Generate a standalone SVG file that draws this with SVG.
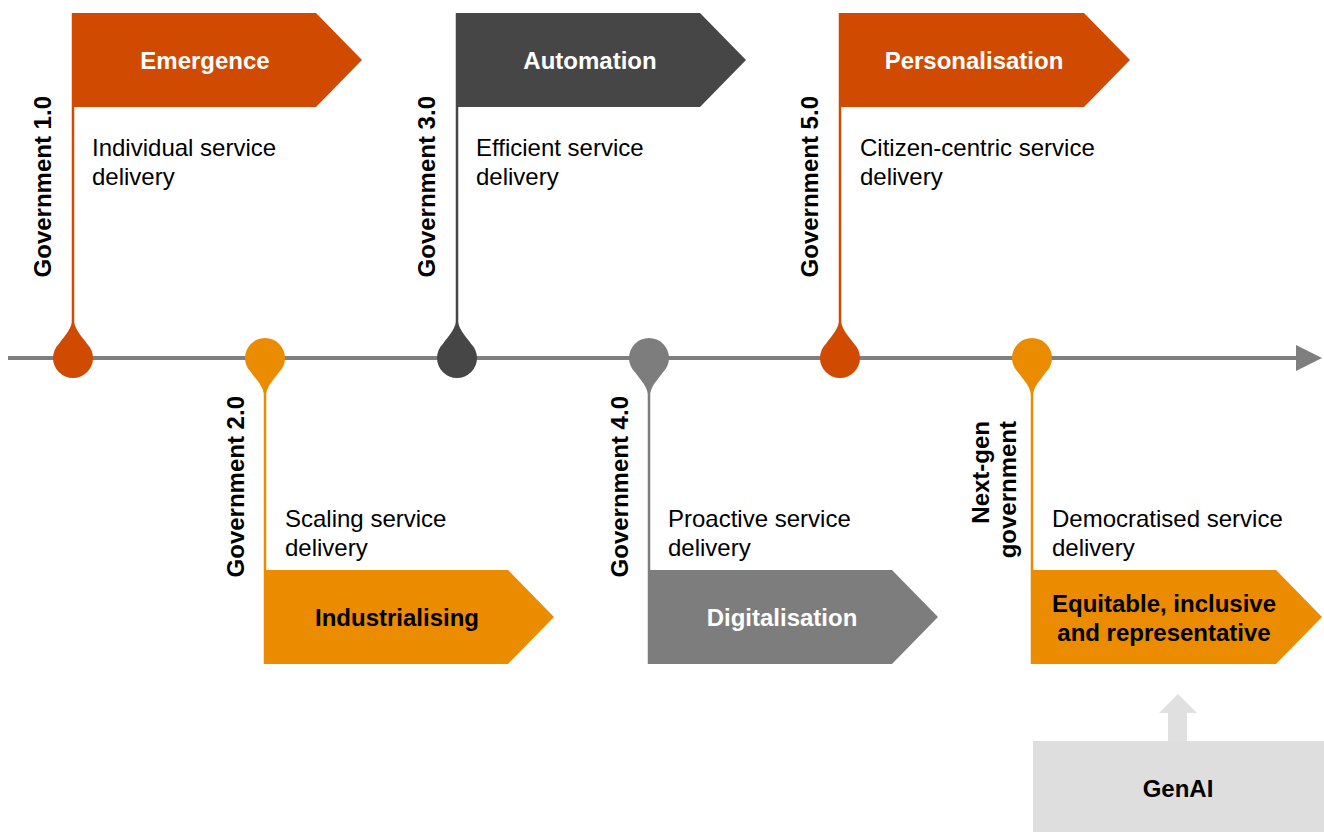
<svg xmlns="http://www.w3.org/2000/svg" xmlns:xlink="http://www.w3.org/1999/xlink" width="1324" height="832" viewBox="0 0 1324 832">
<style>
text{font-family:"Liberation Sans",Arial,sans-serif;font-size:24px}
.b{font-weight:bold}
.w{fill:#ffffff}
.k{fill:#000000}
.c{text-anchor:middle}
.e{text-anchor:end}
.red{fill:#D04A02}
.dk{fill:#464646}
.or{fill:#EB8C00}
.gr{fill:#7D7D7D}
.pole{stroke-width:2.5;fill:none}
</style>
<defs>
<path id="pinUp" d="M0,-42 C1,-28 8,-23 14,-14.3 A20,20 0 1 1 -14,-14.3 C-8,-23 -1,-28 0,-42 Z"/>
<path id="pinDown" d="M0,42 C1,28 8,23 14,14.3 A20,20 0 1 0 -14,14.3 C-8,23 -1,28 0,42 Z"/>
</defs>
<rect width="1324" height="832" fill="#ffffff"/>
<g id="connectors">
<line x1="8" y1="358" x2="1298" y2="358" stroke="#7F7F7F" stroke-width="4"/>
<polygon points="1296,345 1322,358 1296,371" fill="#7F7F7F"/>
<polygon points="1168,741 1168,713 1159,713 1178,694 1197,713 1187,713 1187,741" fill="#E0E0E0"/>
</g>
<g id="gov1">
<line class="pole" x1="73" y1="13" x2="73" y2="330" stroke="#D04A02"/>
<polygon class="red" points="73,13 316,13 362,60 316,107 73,107"/>
<use xlink:href="#pinUp" x="73" y="358" class="red"/>
<text class="b w c" x="205" y="69">Emergence</text>
<text x="92" y="156">Individual service</text>
<text x="92" y="185">delivery</text>
<text class="b e" transform="translate(51,96) rotate(-90)">Government 1.0</text>
</g>
<g id="gov2">
<line class="pole" x1="265" y1="386" x2="265" y2="664" stroke="#EB8C00"/>
<polygon class="or" points="265,570 508,570 554,617 508,664 265,664"/>
<use xlink:href="#pinDown" x="265" y="358" class="or"/>
<text class="b k c" x="397" y="626">Industrialising</text>
<text x="285" y="527">Scaling service</text>
<text x="285" y="556">delivery</text>
<text class="b e" transform="translate(244,396) rotate(-90)">Government 2.0</text>
</g>
<g id="gov3">
<line class="pole" x1="457" y1="13" x2="457" y2="330" stroke="#464646"/>
<polygon class="dk" points="457,13 700,13 746,60 700,107 457,107"/>
<use xlink:href="#pinUp" x="457" y="358" class="dk"/>
<text class="b w c" x="590" y="69">Automation</text>
<text x="476" y="156">Efficient service</text>
<text x="476" y="185">delivery</text>
<text class="b e" transform="translate(435,96) rotate(-90)">Government 3.0</text>
</g>
<g id="gov4">
<line class="pole" x1="649" y1="386" x2="649" y2="664" stroke="#7D7D7D"/>
<polygon class="gr" points="649,570 892,570 938,617 892,664 649,664"/>
<use xlink:href="#pinDown" x="649" y="358" class="gr"/>
<text class="b w c" x="782" y="626">Digitalisation</text>
<text x="668" y="527">Proactive service</text>
<text x="668" y="556">delivery</text>
<text class="b e" transform="translate(628,396) rotate(-90)">Government 4.0</text>
</g>
<g id="gov5">
<line class="pole" x1="840" y1="13" x2="840" y2="330" stroke="#D04A02"/>
<polygon class="red" points="840,13 1084,13 1130,60 1084,107 840,107"/>
<use xlink:href="#pinUp" x="840" y="358" class="red"/>
<text class="b w c" x="974" y="69">Personalisation</text>
<text x="860" y="156">Citizen-centric service</text>
<text x="860" y="185">delivery</text>
<text class="b e" transform="translate(818,96) rotate(-90)">Government 5.0</text>
</g>
<g id="nextgen">
<line class="pole" x1="1032" y1="386" x2="1032" y2="664" stroke="#EB8C00"/>
<polygon class="or" points="1032,570 1276,570 1322,617 1276,664 1032,664"/>
<use xlink:href="#pinDown" x="1032" y="358" class="or"/>
<text class="b k c" x="1164" y="612">Equitable, inclusive</text>
<text class="b k c" x="1164" y="641">and representative</text>
<text x="1052" y="527">Democratised service</text>
<text x="1052" y="556">delivery</text>
<text class="b e" transform="translate(989,421) rotate(-90)">Next-gen</text>
<text class="b e" transform="translate(1016,421) rotate(-90)">government</text>
</g>
<g id="genai">
<rect x="1033" y="741" width="291" height="91" fill="#DEDEDE"/>
<text class="b k c" x="1178" y="797">GenAI</text>
</g>
</svg>
